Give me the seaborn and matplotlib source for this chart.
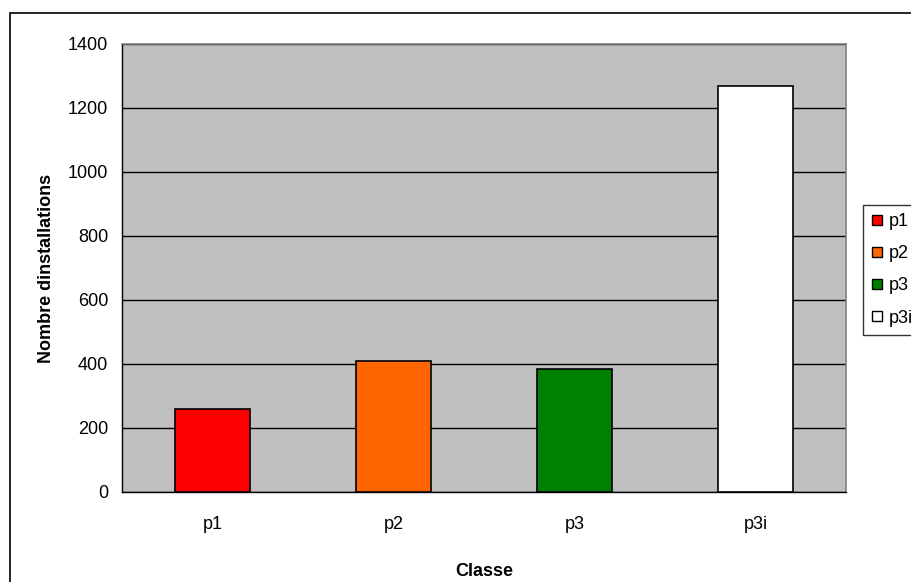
import pandas as pd
import numpy as np
import matplotlib.pyplot as plt
import seaborn as sns
from matplotlib.lines import Line2D
from matplotlib.patches import Rectangle
from matplotlib.ticker import FixedLocator, NullFormatter

# data
classes = ['p1', 'p2', 'p3', 'p3i']
counts = [260, 410, 383, 1270]
colors = ['#FF0000', '#FF6600', '#008000', '#FFFFFF']

df = pd.DataFrame({'Classe': classes, 'Nombre': counts})

sns.set_style('white')
plt.rcParams['font.family'] = ['Liberation Sans', 'DejaVu Sans']
plt.rcParams['text.color'] = 'black'
plt.rcParams['axes.labelcolor'] = 'black'
plt.rcParams['xtick.color'] = 'black'
plt.rcParams['ytick.color'] = 'black'

fig = plt.figure(figsize=(9.11, 5.82), dpi=100)
ax = fig.add_axes([122/911, 90/582, 724/911, 448/582])
ax.set_facecolor('#C0C0C0')

sns.barplot(data=df, x='Classe', y='Nombre', hue='Classe', palette=colors,
            width=0.41, edgecolor='black', linewidth=1.2, legend=False,
            saturation=1, ax=ax)

ax.set_xlim(-0.5, 3.5)
ax.set_ylim(0, 1400)
ax.set_yticks(np.arange(0, 1401, 200))
ax.yaxis.grid(True, color='black', linewidth=1)
ax.set_axisbelow(True)
for b in ax.patches:
    b.set_zorder(3)

# category labels at centers, tick marks at boundaries
ax.tick_params(axis='x', which='major', length=0, pad=17, labelsize=13)
ax.xaxis.set_minor_locator(FixedLocator(np.arange(-0.5, 3.6, 1)))
ax.xaxis.set_minor_formatter(NullFormatter())
ax.tick_params(axis='x', which='minor', length=5, width=1, direction='out', color='black')
ax.tick_params(axis='y', length=5, width=1, direction='out', color='black', labelsize=13, pad=5)

for side in ['top', 'right']:
    ax.spines[side].set_color('#808080')
    ax.spines[side].set_linewidth(1.2)
for side in ['left', 'bottom']:
    ax.spines[side].set_color('black')
    ax.spines[side].set_linewidth(1)

ax.set_xlabel('Classe', fontsize=13, fontweight='bold', labelpad=22)
ax.set_ylabel('Nombre dinstallations', fontsize=13, fontweight='bold', labelpad=9)

# legend
handles = [Line2D([], [], marker='s', linestyle='none', markersize=7,
                  markerfacecolor=c, markeredgecolor='black', markeredgewidth=1)
           for c in colors]
leg = fig.legend(handles, classes, loc='upper left', bbox_to_anchor=(863/911, 1 - 205/582),
                 fontsize=13, frameon=True, fancybox=False, handlelength=0.7,
                 handletextpad=0.3, labelspacing=0.84, borderpad=0.45, borderaxespad=0)
leg.get_frame().set_edgecolor('black')
leg.get_frame().set_linewidth(1)

# outer chart frame
fig.patches.append(Rectangle((10/911, -0.05), 1.0, 1 - 13/582 + 0.05,
                             transform=fig.transFigure, fill=False,
                             edgecolor='black', linewidth=1.2))

fig.savefig('out.png', dpi=100)
